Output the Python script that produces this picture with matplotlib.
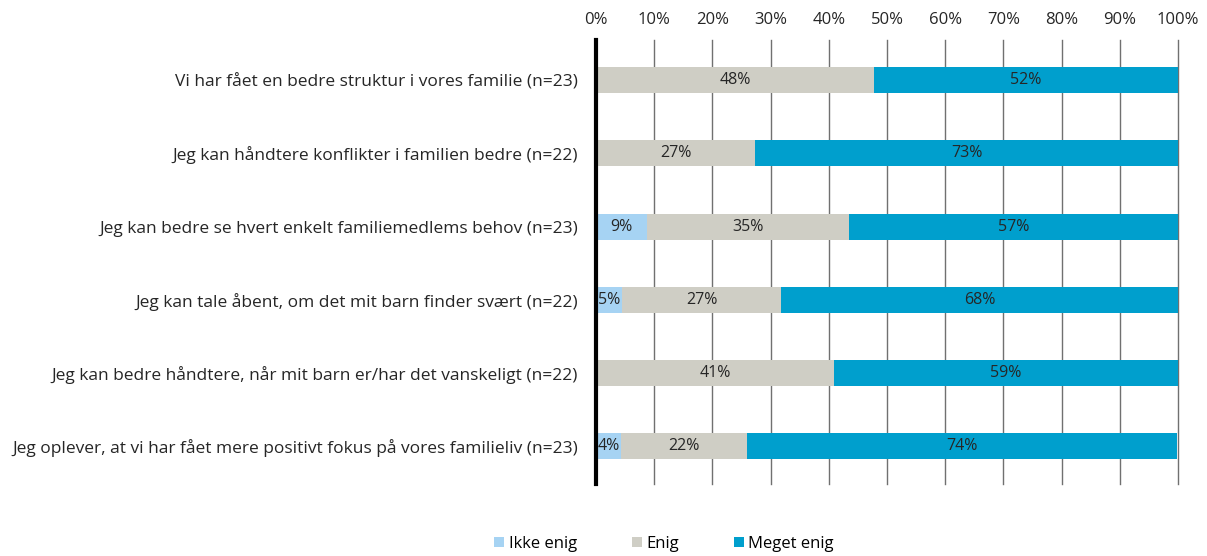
import matplotlib
matplotlib.use("Agg")
import matplotlib.pyplot as plt
from matplotlib.patches import Patch
import numpy as np

categories = [
    "Vi har fået en bedre struktur i vores familie (n=23)",
    "Jeg kan håndtere konflikter i familien bedre (n=22)",
    "Jeg kan bedre se hvert enkelt familiemedlems behov (n=23)",
    "Jeg kan tale åbent, om det mit barn finder svært (n=22)",
    "Jeg kan bedre håndtere, når mit barn er/har det vanskeligt (n=22)",
    "Jeg oplever, at vi har fået mere positivt fokus på vores familieliv (n=23)",
]
series_names = ["Ikke enig", "Enig", "Meget enig"]
ikke_enig = [0.0, 0.0, 8.7, 4.5, 0.0, 4.3]
enig = [47.8, 27.3, 34.8, 27.3, 40.9, 21.7]
meget_enig = [52.2, 72.7, 56.5, 68.2, 59.1, 73.9]
colors = ["#A6D3F3", "#CFCEC5", "#009FCD"]

plt.rcParams['font.family'] = ['Open Sans', 'DejaVu Sans']

fig = plt.figure(figsize=(12.07, 5.56), dpi=100)
ax = fig.add_axes([596/1207, 1-484/556, (1178-596)/1207, (484-40)/556])

y = np.arange(len(categories))
left = np.zeros(len(categories))
for vals, name, col in zip([ikke_enig, enig, meget_enig], series_names, colors):
    vals = np.array(vals)
    ax.barh(y, vals, left=left, height=0.355, color=col, label=name, zorder=3)
    for yi, l, v in zip(y, left, vals):
        if v > 0:
            ax.text(l + v/2, yi, f"{int(np.floor(v + 0.5 + 1e-9))}%", ha="center", va="center",
                    fontsize=11.5, color="#262626", zorder=4)
    left = left + vals

ax.set_xlim(0, 100)
ax.set_ylim(5.52, -0.55)
ax.set_xticks(np.arange(0, 101, 10))
ax.set_xticklabels([f"{t}%" for t in range(0, 101, 10)], fontsize=12, color="#262626")
ax.xaxis.tick_top()
ax.tick_params(axis="x", length=0, pad=9)
ax.set_yticks(y)
ax.set_yticklabels(categories, fontsize=12.5, color="#262626")
ax.tick_params(axis="y", length=0, pad=13)
ax.grid(axis="x", color="#707070", linewidth=1, zorder=0)
for gl in ax.get_xgridlines():
    gl.set_clip_on(False)
for s in ["top", "right", "bottom"]:
    ax.spines[s].set_visible(False)
ax.spines["left"].set_linewidth(3)
ax.spines["left"].set_color("black")
ax.spines["left"].set_zorder(5)

handles = [Patch(facecolor=c, edgecolor="none") for c in colors]
fig.legend(handles, series_names, loc="center", bbox_to_anchor=(664/1207, 1-544/556),
           ncol=3, frameon=False, fontsize=12, handlelength=0.6, handleheight=0.6,
           handletextpad=0.25, columnspacing=3.3)

fig.savefig("out.png", dpi=100)
